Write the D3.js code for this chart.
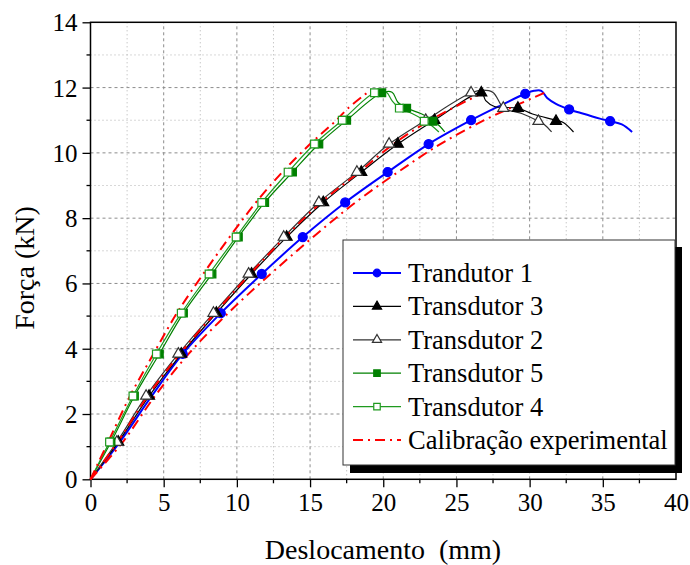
<!DOCTYPE html>
<html>
<head>
<meta charset="utf-8">
<script src="https://cdn.jsdelivr.net/npm/d3@7"></script>
<style>
  body { margin: 0; background: #fff; }
  svg { display: block; }
  svg text { font-family: "Liberation Serif", "Times New Roman", serif; fill: #000; }
</style>
</head>
<body>
<div id="chart"></div>
<script>
const width = 690;
const height = 565;

// force levels where the markers sit (kN)
const markForce = [1.14, 2.55, 3.84, 5.09, 6.29, 7.42, 8.48, 9.41, 10.27, 11.0, 11.84, 11.37, 10.97];

// Trandutor 1 (blue)
const t1Line = [[0,0],[2.0,1.14],[4.1,2.5],[6.3,3.84],[8.9,5.09],[11.7,6.29],[14.5,7.42],[17.4,8.48],[20.3,9.41],
  [23.1,10.27],[26.0,11.0],[28.0,11.45],[29.7,11.81],[30.3,11.9],[30.8,11.9],[31.2,11.68],[31.8,11.5],[32.7,11.33],
  [33.5,11.22],[34.8,11.05],[35.5,10.97],[36.3,10.87],[37.0,10.64]];
const t1Marks = [[6.3,3.84],[8.9,5.09],[11.7,6.29],[14.5,7.42],[17.4,8.48],[20.3,9.41],[23.1,10.27],[26.0,11.0],
  [29.7,11.81],[32.7,11.33],[35.5,10.97]];

// Transdutor 3 (black, filled triangles)
const t3X = [1.9, 4.0, 6.2, 8.6, 11.0, 13.4, 15.9, 18.5, 21.0, 23.5, 26.7, 29.2, 31.8];
const t3Tail = [[27.0,11.6],[27.6,11.42],[29.2,11.37],[30.2,11.19],[31.8,11.0],[32.3,10.93],[33.0,10.64]];

// Transdutor 2 (dark grey, open triangles)
const t2X = [1.8, 3.8, 6.0, 8.4, 10.8, 13.2, 15.6, 18.2, 20.4, 22.9, 26.0, 28.2, 30.6];
const t2Tail = [[26.8,11.92],[27.5,11.85],[28.0,11.5],[28.2,11.37],[29.5,11.2],[30.6,10.97],[31.0,10.87],[31.5,10.64]];

// Transdutor 5 (green, filled squares)
const t5X = [1.4, 3.0, 4.7, 6.35, 8.3, 10.1, 11.9, 13.8, 15.6, 17.5, 19.9, 21.6, 23.4];
const t5Tail = [[20.6,11.86],[21.0,11.55],[21.6,11.37],[22.6,11.2],[23.4,11.0],[23.9,10.8],[24.2,10.64]];

// Transdutor 4 (green, open squares)
const t4X = [1.3, 2.9, 4.5, 6.2, 8.1, 9.95, 11.7, 13.5, 15.3, 17.2, 19.4, 21.1, 22.8];
const t4Tail = [[20.2,11.86],[20.6,11.6],[21.1,11.37],[22.0,11.2],[22.8,11.0],[23.4,10.8],[23.8,10.64]];

// Calibração experimental (three red dash-dot curves)
const calGreen = [[0,0],[1.2,1.14],[2.7,2.55],[4.3,3.84],[5.9,5.09],[7.7,6.29],[9.5,7.42],[11.3,8.48],[13.1,9.41],[15.0,10.27],[16.8,11.0],[17.6,11.37],[18.9,11.84]];
const calBlack = [[0,0],[1.85,1.14],[3.9,2.55],[6.1,3.84],[8.5,5.09],[10.9,6.29],[13.3,7.42],[15.75,8.48],[18.35,9.41],[20.7,10.27],[23.2,11.0],[26.8,11.84]];
const calBlue = [[0,0],[2.2,1.14],[4.4,2.55],[6.7,3.84],[9.4,5.09],[12.3,6.29],[15.2,7.42],[18.1,8.48],[21.0,9.41],[23.9,10.27],[26.9,11.0],[29.3,11.5],[31.0,11.84]];

const xMajor = [0, 5, 10, 15, 20, 25, 30, 35, 40];
const yMajor = [0, 2, 4, 6, 8, 10, 12, 14];
const legendNames = ["Trandutor 1", "Transdutor 3", "Transdutor 2", "Transdutor 5", "Transdutor 4", "Calibração experimental"];

// build full line from the marker x positions: origin, rising part, peak, then tail
function withForce(xs, tail) {
  const pts = [[0,0]];
  for (let i = 0; i <= 10; i++) pts.push([xs[i], markForce[i]]);
  return pts.concat(tail);
}
function marks(xs) { return xs.map((x, i) => [x, markForce[i]]); }

const x = d3.scaleLinear().domain([0, 40]).range([90.5, 676]);
const y = d3.scaleLinear().domain([0, 14]).range([479.3, 22.3]);

const svg = d3.select("#chart").append("svg")
  .attr("width", width).attr("height", height);

// grid
const grid = svg.append("g");
grid.selectAll("line.vminor").data(d3.range(2.5, 40, 5)).join("line")
  .attr("x1", d => x(d)).attr("x2", d => x(d)).attr("y1", y(0)).attr("y2", y(14))
  .attr("stroke", "#b0b0b0").attr("stroke-width", 1).attr("stroke-dasharray", "1,3");
grid.selectAll("line.hminor").data(d3.range(1, 14, 2)).join("line")
  .attr("x1", x(0)).attr("x2", x(40)).attr("y1", d => y(d)).attr("y2", d => y(d))
  .attr("stroke", "#b0b0b0").attr("stroke-width", 1).attr("stroke-dasharray", "1,3");
grid.selectAll("line.vmajor").data(xMajor.slice(1, -1)).join("line")
  .attr("x1", d => x(d)).attr("x2", d => x(d)).attr("y1", y(0)).attr("y2", y(14))
  .attr("stroke", "#8c8c8c").attr("stroke-width", 1).attr("stroke-dasharray", "3,3");
grid.selectAll("line.hmajor").data(yMajor.slice(1, -1)).join("line")
  .attr("x1", x(0)).attr("x2", x(40)).attr("y1", d => y(d)).attr("y2", d => y(d))
  .attr("stroke", "#8c8c8c").attr("stroke-width", 1).attr("stroke-dasharray", "3,3");

// axes
const xAxis = d3.axisBottom(x).tickValues(xMajor).tickSize(8).tickPadding(6).tickFormat(d3.format("d"));
const yAxis = d3.axisLeft(y).tickValues(yMajor).tickSize(8).tickPadding(5).tickFormat(d3.format("d"));

const gx = svg.append("g").attr("transform", `translate(0,${y(0)})`).call(xAxis);
gx.selectAll(".tick").filter(d => d === 40).select("line").remove();
const gy = svg.append("g").attr("transform", `translate(${x(0)},0)`).call(yAxis);
[gx, gy].forEach(g => {
  g.attr("font-family", null).attr("font-size", null);
  g.select(".domain").remove();
  g.selectAll("line").attr("stroke", "#000").attr("stroke-width", 1.3);
  g.selectAll("text").style("font-size", "25px");
});
gy.selectAll("text").attr("dy", "0.34em");
// minor ticks
svg.append("g").selectAll("line").data(d3.range(2.5, 40, 5)).join("line")
  .attr("x1", d => x(d)).attr("x2", d => x(d)).attr("y1", y(0)).attr("y2", y(0) + 4)
  .attr("stroke", "#000").attr("stroke-width", 1.3);
svg.append("g").selectAll("line").data(d3.range(1, 14, 2)).join("line")
  .attr("x1", x(0) - 4).attr("x2", x(0)).attr("y1", d => y(d)).attr("y2", d => y(d))
  .attr("stroke", "#000").attr("stroke-width", 1.3);

// frame
svg.append("rect").attr("x", x(0)).attr("y", y(14))
  .attr("width", x(40) - x(0)).attr("height", y(0) - y(14))
  .attr("fill", "none").attr("stroke", "#000").attr("stroke-width", 1.5);

// axis titles
svg.append("text").attr("x", 383).attr("y", 559).attr("text-anchor", "middle")
  .style("font-size", "28px").style("white-space", "pre").text("Deslocamento  (mm)");
svg.append("text").attr("transform", "translate(34,268) rotate(-90)").attr("text-anchor", "middle")
  .style("font-size", "28px").text("Força (kN)");

// series
const line = d3.line().x(d => x(d[0])).y(d => y(d[1])).curve(d3.curveCatmullRom.alpha(0.5));

const series = [
  { line: t1Line, marks: t1Marks, color: "#0000ff", width: 2, sym: "circle", fill: "#0000ff" },
  { line: withForce(t3X, t3Tail), marks: marks(t3X), color: "#000", width: 1.2, sym: "tri", fill: "#000" },
  { line: withForce(t2X, t2Tail), marks: marks(t2X), color: "#333", width: 1.2, sym: "tri", fill: "#fff" },
  { line: withForce(t5X, t5Tail), marks: marks(t5X), color: "#008000", width: 1.2, sym: "sq", fill: "#008000" },
  { line: withForce(t4X, t4Tail), marks: marks(t4X), color: "#1f9a1f", width: 1.2, sym: "sq", fill: "#fff" }
];

const symType = { circle: d3.symbolCircle, tri: d3.symbolTriangle, sq: d3.symbolSquare };
const symSize = { circle: 64, tri: 52, sq: 60 };

const plot = svg.append("g");
series.forEach(s => {
  plot.append("path").attr("d", line(s.line)).attr("fill", "none")
    .attr("stroke", s.color).attr("stroke-width", s.width);
});
[calGreen, calBlack, calBlue].forEach(c => {
  plot.append("path").attr("d", line(c)).attr("fill", "none")
    .attr("stroke", "#ff0000").attr("stroke-width", 2).attr("stroke-dasharray", "10,5,2,5");
});
series.forEach(s => {
  plot.append("g").selectAll("path").data(s.marks).join("path")
    .attr("transform", d => `translate(${x(d[0])},${y(d[1])})`)
    .attr("d", d3.symbol(symType[s.sym], symSize[s.sym]))
    .attr("fill", s.fill).attr("stroke", s.color).attr("stroke-width", 1.2);
});

// legend
const lg = svg.append("g");
lg.append("rect").attr("x", 350).attr("y", 247).attr("width", 332).attr("height", 226).attr("fill", "#000");
lg.append("rect").attr("x", 343).attr("y", 240).attr("width", 332).attr("height", 225)
  .attr("fill", "#fff").attr("stroke", "#333").attr("stroke-width", 1);

const rowY = d3.scalePoint().domain(legendNames).range([273, 440]);
legendNames.forEach((name, i) => {
  const ry = rowY(name);
  const g = lg.append("g");
  if (i < 5) {
    const s = series[i];
    g.append("line").attr("x1", 353).attr("x2", 401).attr("y1", ry).attr("y2", ry)
      .attr("stroke", s.color).attr("stroke-width", s.width);
    g.append("path").attr("transform", `translate(377,${ry})`)
      .attr("d", d3.symbol(symType[s.sym], symSize[s.sym] * 0.7))
      .attr("fill", s.fill).attr("stroke", s.color).attr("stroke-width", 1.2);
  } else {
    g.append("line").attr("x1", 353).attr("x2", 401).attr("y1", ry).attr("y2", ry)
      .attr("stroke", "#ff0000").attr("stroke-width", 2).attr("stroke-dasharray", "10,5,2,5");
  }
  g.append("text").attr("x", 408).attr("y", ry + 9).style("font-size", "26.5px").text(name);
});
</script>
</body>
</html>
